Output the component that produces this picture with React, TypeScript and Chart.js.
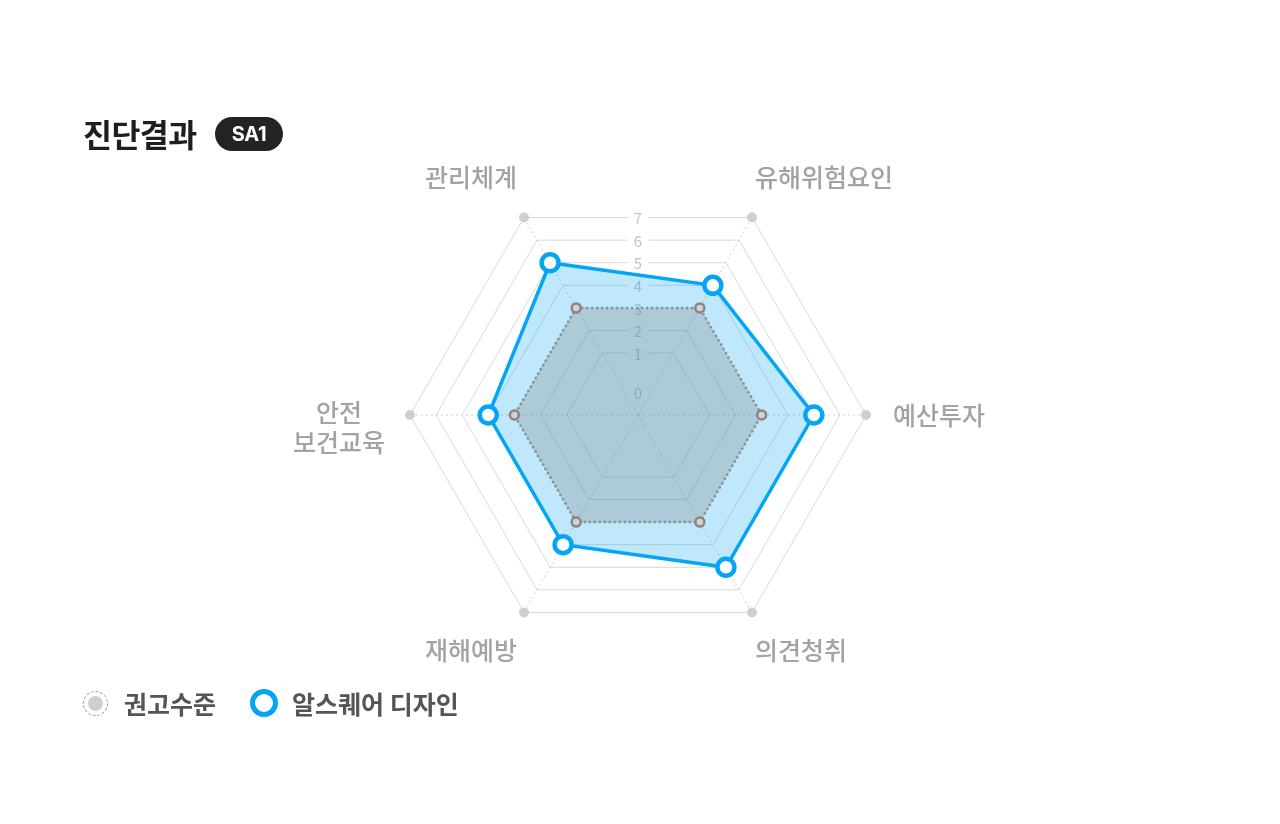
import React, { useEffect, useRef } from 'react';
import { Chart, registerables } from 'chart.js';

Chart.register(...registerables);

// ---------- data ----------
const categories: (string | string[])[] = ['관리체계', '유해위험요인', '예산투자', '의견청취', '재해예방', ['안전', '보건교육']];
const seriesNames = ['권고수준', '알스퀘어 디자인'];
const recommendedValues = [3, 3, 3, 3, 3, 3];
const designValues = [5, 4, 5, 5, 4, 4];
const outerMarkerValues = [7, 7, 7, 7, 7, 7];
const gridTickValues = [1, 2, 3, 4, 5, 6, 7];
const tickLabelValues = [0, 1, 2, 3, 4, 5, 6, 7];
const titleText = '진단결과';
const badgeText = 'SA1';

const SCALE_MIN = -1.74;
const SCALE_MAX = 7;
const FONT = '"Noto Sans CJK KR", "Noto Sans", sans-serif';
const LATIN_FONT = 'Inter, "Noto Sans", sans-serif';

const BLUE = '#05a5f6';

const labelPlugin = {
  id: 'customRadarLabels',
  beforeDatasetsDraw(chart: any) {
    const scale = chart.scales.r;
    const ctx: CanvasRenderingContext2D = chart.ctx;
    ctx.save();
    ctx.font = `15px ${FONT}`;
    ctx.textAlign = 'center';
    ctx.textBaseline = 'middle';
    tickLabelValues.forEach((v) => {
      const d = v === 0
        ? scale.getDistanceFromCenterForValue(1) * 0.32
        : scale.getDistanceFromCenterForValue(v) * Math.cos(Math.PI / 6);
      const y = scale.yCenter - d;
      const text = String(v);
      const w = ctx.measureText(text).width;
      if (v !== 0) {
        ctx.fillStyle = '#ffffff';
        ctx.fillRect(scale.xCenter - w / 2 - 6, y - 6, w + 12, 12);
      }
      ctx.fillStyle = '#c2c2c2';
      ctx.fillText(text, scale.xCenter, y + 1);
    });
    ctx.restore();
  },
  afterDraw(chart: any) {
    const scale = chart.scales.r;
    const ctx: CanvasRenderingContext2D = chart.ctx;
    ctx.save();
    ctx.font = `500 25px ${FONT}`;
    ctx.fillStyle = '#a3a3a3';
    ctx.textBaseline = 'middle';
    categories.forEach((label, i) => {
      const p = scale.getPointPosition(i, scale.drawingArea);
      const c = Math.cos(p.angle);
      const s = Math.sin(p.angle);
      const lines = Array.isArray(label) ? label : [label];
      if (Math.abs(c) > 0.9) {
        const widths = lines.map((l) => ctx.measureText(l).width);
        const bw = Math.max(...widths);
        const lh = 30;
        const startY = lines.length > 1 ? p.y - 3 : p.y;
        ctx.textAlign = 'center';
        const cx = c > 0 ? p.x + 27 + bw / 2 : p.x - 25 - bw / 2;
        lines.forEach((l, k) => ctx.fillText(l, cx, startY + k * lh));
      } else {
        ctx.textAlign = c > 0 ? 'left' : 'right';
        const x = c > 0 ? p.x + 3 : p.x - 7;
        const y = s < 0 ? p.y - 40 : p.y + 38;
        lines.forEach((l, k) => ctx.fillText(l, x, y + k * 30));
      }
    });
    ctx.restore();
  },
};

function RadarChart() {
  const ref = useRef<HTMLCanvasElement>(null);
  useEffect(() => {
    if (!ref.current) return;
    const chart = new Chart(ref.current, {
      type: 'radar',
      data: {
        labels: categories as any,
        datasets: [
          {
            label: seriesNames[0],
            data: recommendedValues,
            borderColor: '#8a8a8a',
            borderWidth: 2.5,
            borderDash: [2, 3],
            backgroundColor: 'rgba(128,128,128,0.29)',
            fill: 'start',
            pointRadius: 4.5,
            pointBorderWidth: 2.5,
            pointBorderColor: '#8b8581',
            pointBackgroundColor: '#d2d2d2',
            clip: false as any,
          },
          {
            label: seriesNames[1],
            data: designValues,
            borderColor: BLUE,
            borderWidth: 3.5,
            backgroundColor: 'rgba(0,163,245,0.25)',
            fill: 'start',
            pointRadius: 8.5,
            pointBorderWidth: 4.5,
            pointBorderColor: BLUE,
            pointBackgroundColor: '#ffffff',
            clip: false as any,
          },
          {
            label: 'outer',
            data: outerMarkerValues,
            showLine: false,
            fill: false,
            borderWidth: 0,
            pointRadius: 5,
            pointBorderWidth: 0,
            pointBackgroundColor: '#cfcfcf',
            clip: false as any,
          },
        ],
      },
      options: {
        responsive: false,
        animation: false,
        devicePixelRatio: 1,
        layout: { padding: { left: 410, right: 414, top: 187, bottom: 181 } },
        plugins: { legend: { display: false }, tooltip: { enabled: false }, title: { display: false } },
        elements: { line: { tension: 0 } },
        scales: {
          r: {
            min: SCALE_MIN,
            max: SCALE_MAX,
            startAngle: -30,
            afterBuildTicks: (scale: any) => {
              scale.ticks = gridTickValues.map((v) => ({ value: v }));
            },
            ticks: { display: false },
            pointLabels: { display: false },
            grid: { circular: false, color: '#d9d9d9', lineWidth: 1 },
            angleLines: { color: '#cccccc', lineWidth: 1, borderDash: [2, 3] },
          },
        },
      },
      plugins: [labelPlugin],
    });
    return () => chart.destroy();
  }, []);
  return <canvas ref={ref} width={1280} height={824} style={{ position: 'absolute', left: 0, top: 0, width: 1280, height: 824 }} />;
}

export default function App() {
  useEffect(() => {
    document.body.style.margin = '0';
    document.body.style.background = '#ffffff';
  }, []);
  return (
    <div style={{ position: 'relative', width: 1280, height: 824, fontFamily: FONT, overflow: 'hidden', background: '#fff' }}>
      <RadarChart />
      <div style={{ position: 'absolute', left: 83, top: 113, height: 40, lineHeight: '40px', fontSize: 31.5, fontWeight: 700, color: '#1e1e1e', letterSpacing: -0.6 }}>
        {titleText}
      </div>
      <div style={{ position: 'absolute', left: 215, top: 117, width: 68, height: 34, borderRadius: 17, background: '#232323', color: '#fff', fontFamily: LATIN_FONT, fontSize: 20, fontWeight: 700, display: 'flex', alignItems: 'center', justifyContent: 'center', lineHeight: 1, letterSpacing: -0.3 }}>
        {badgeText}
      </div>
      <div style={{ position: 'absolute', left: 83, top: 686, height: 34, display: 'flex', alignItems: 'center' }}>
        <div style={{ width: 25, height: 25, borderRadius: '50%', border: '1px dashed #9a9a9a', boxSizing: 'border-box', display: 'flex', alignItems: 'center', justifyContent: 'center' }}>
          <div style={{ width: 15, height: 15, borderRadius: '50%', background: '#cfcfcf' }} />
        </div>
        <div style={{ marginLeft: 16, fontSize: 25, fontWeight: 700, color: '#555', lineHeight: '34px' }}>{seriesNames[0]}</div>
        <div style={{ marginLeft: 34, width: 28, height: 28, borderRadius: '50%', border: `5px solid ${BLUE}`, boxSizing: 'border-box', background: '#fff' }} />
        <div style={{ marginLeft: 14, fontSize: 25, fontWeight: 700, color: '#555', lineHeight: '34px' }}>{seriesNames[1]}</div>
      </div>
    </div>
  );
}
